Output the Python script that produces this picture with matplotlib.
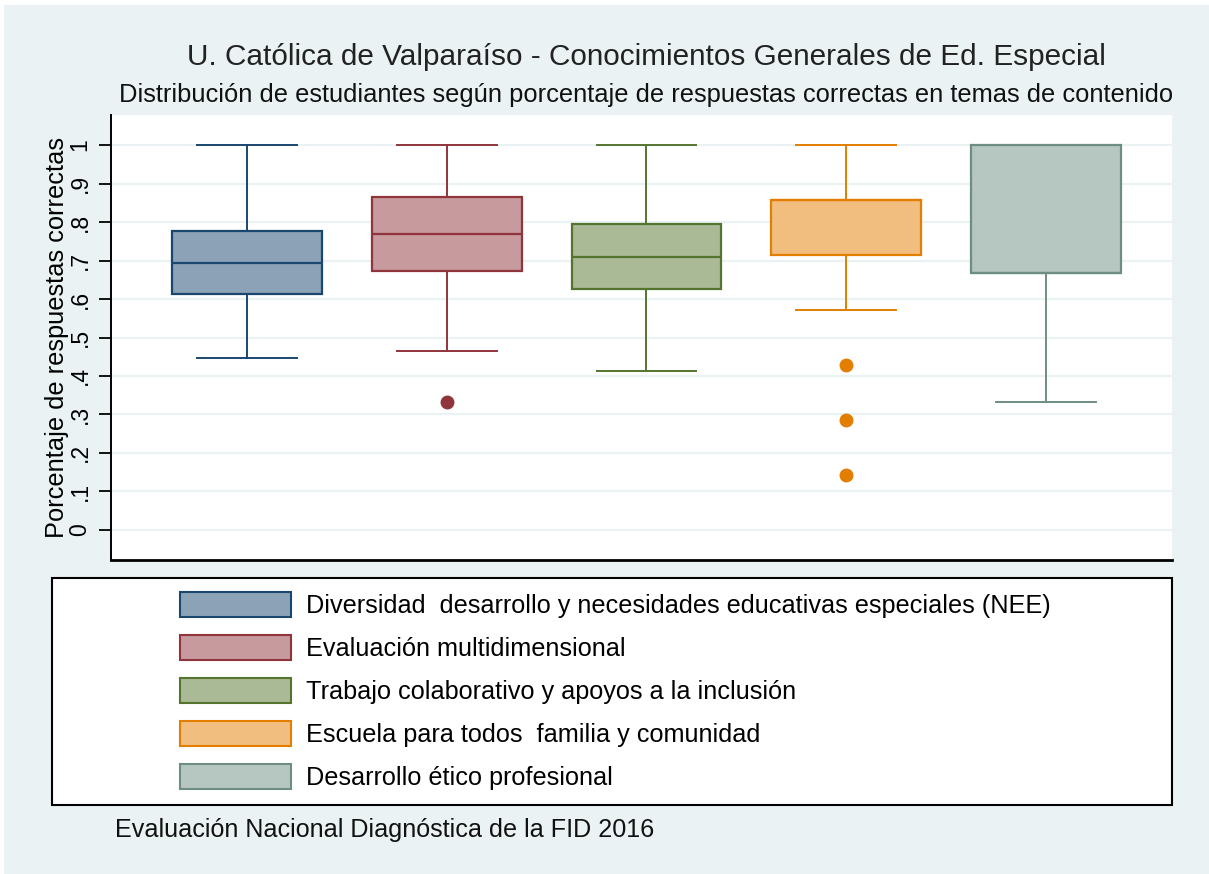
import matplotlib
matplotlib.use("Agg")
import matplotlib.pyplot as plt
from matplotlib.patches import Patch, Rectangle

plt.rcParams['font.family'] = ['Liberation Sans', 'DejaVu Sans']

# Data
temas = [
    "Diversidad  desarrollo y necesidades educativas especiales (NEE)",
    "Evaluación multidimensional",
    "Trabajo colaborativo y apoyos a la inclusión",
    "Escuela para todos  familia y comunidad",
    "Desarrollo ético profesional",
]
whisker_low = [0.446, 0.465, 0.414, 0.571, 0.333]
q1 = [0.613, 0.672, 0.625, 0.714, 0.667]
mediana = [0.694, 0.769, 0.708, 0.857, 0.667]
q3 = [0.777, 0.865, 0.796, 0.857, 1.0]
whisker_high = [1.0, 1.0, 1.0, 1.0, 1.0]
outliers = [[], [0.333], [], [0.429, 0.286, 0.143], []]

line_colors = ['#1A476F', '#90353B', '#55752F', '#E37E00', '#6E8E84']
fill_colors = ['#8CA3B7', '#C79A9D', '#AABA97', '#F1BE7F', '#B6C6C1']

bg = '#EAF2F3'

fig = plt.figure(figsize=(12.09, 8.74), dpi=100, facecolor='white')
fig.patches.append(Rectangle((4 / 1209, 0), 1, 1 - 5 / 874, transform=fig.transFigure,
                             facecolor=bg, edgecolor='none', zorder=-10))

ax = fig.add_axes([111 / 1209, 1 - 560 / 874, (1172 - 111) / 1209, (560 - 115) / 874])
ax.set_facecolor('white')

for i in range(len(temas)):
    stats = [{
        'whislo': whisker_low[i], 'q1': q1[i], 'med': mediana[i],
        'q3': q3[i], 'whishi': whisker_high[i], 'fliers': outliers[i],
    }]
    c = line_colors[i]
    ax.bxp(stats, positions=[i + 1], widths=0.75, capwidths=0.5, patch_artist=True,
           boxprops=dict(facecolor=fill_colors[i], edgecolor=c, linewidth=1.6),
           medianprops=dict(color=c, linewidth=1.6),
           whiskerprops=dict(color=c, linewidth=1.4),
           capprops=dict(color=c, linewidth=1.4),
           flierprops=dict(marker='o', markerfacecolor=c, markeredgecolor=c, markersize=9),
           manage_ticks=False, zorder=3)

ax.set_xlim(0.32, 5.63)
ax.set_ylim(-0.078, 1.078)
yt = [i / 10 for i in range(11)]
ax.set_yticks(yt)
ax.set_yticklabels(['0', '.1', '.2', '.3', '.4', '.5', '.6', '.7', '.8', '.9', '1'],
                   rotation=90, va='center', fontsize=16.5)
ax.set_xticks([])
ax.tick_params(axis='y', length=9, width=1.3, pad=5)
ax.yaxis.grid(True, color=bg, linewidth=1.6, zorder=0)
ax.set_axisbelow(True)
for s in ['top', 'right']:
    ax.spines[s].set_visible(False)
ax.spines['left'].set_linewidth(1.4)
ax.spines['bottom'].set_linewidth(2)
ax.set_ylabel('Porcentaje de respuestas correctas', fontsize=18.3, labelpad=-0.5)

fig.text(646 / 1209, 1 - 57 / 874,
         'U. Católica de Valparaíso - Conocimientos Generales de Ed. Especial',
         ha='center', va='center', fontsize=21.4, color='#222222')
fig.text(646 / 1209, 1 - 95 / 874,
         'Distribución de estudiantes según porcentaje de respuestas correctas en temas de contenido',
         ha='center', va='center', fontsize=18.4, color='#111111')

# legend frame
fig.patches.append(Rectangle((52 / 1209, 1 - 805 / 874), (1172 - 52) / 1209, (805 - 578) / 874,
                             transform=fig.transFigure, facecolor='white',
                             edgecolor='black', linewidth=1.5, zorder=1))
handles = [Patch(facecolor=fill_colors[i], edgecolor=line_colors[i], linewidth=1.5)
           for i in range(len(temas))]
fig.legend(handles, temas, loc='upper left', bbox_to_anchor=(180 / 1209, 1 - 592 / 874),
           frameon=False, fontsize=18.2, handlelength=4.4, handleheight=1.12,
           labelspacing=0.68, handletextpad=0.6, borderaxespad=0, borderpad=0)

fig.text(115 / 1209, 1 - 830 / 874, 'Evaluación Nacional Diagnóstica de la FID 2016',
         ha='left', va='center', fontsize=18.1, color='#111111')

fig.savefig('out.png', dpi=100, facecolor=fig.get_facecolor())
